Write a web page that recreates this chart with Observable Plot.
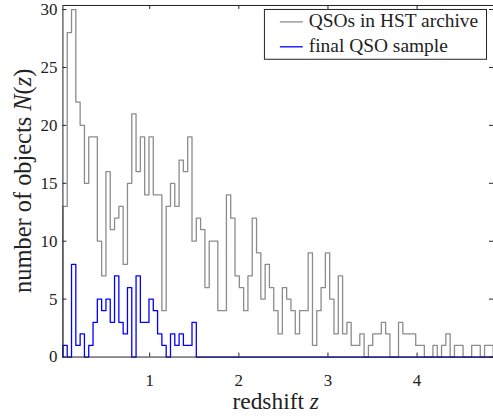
<!DOCTYPE html>
<html>
<head>
<meta charset="utf-8">
<script src="https://cdn.jsdelivr.net/npm/d3@7"></script>
<script src="https://cdn.jsdelivr.net/npm/@observablehq/plot@0.6"></script>
<style>
html, body { margin: 0; padding: 0; background: #fff; overflow: hidden; }
#chart { width: 493px; height: 419px; overflow: hidden; }
</style>
</head>
<body>
<div id="chart"></div>
<script>
// Histogram binning: 100 bins starting at binStart
const binStart = 0.0265;
const binWidth = 0.04827;

// Counts per bin: QSOs in HST archive
const archiveCounts = [
  13, 28, 30, 22, 20, 15, 19, 19, 10, 7,
  16, 11, 12, 13, 8, 15, 21, 16, 19, 14,
  19, 14, 14, 4, 13, 15, 13, 17, 16, 19,
  10, 12, 11, 6, 10, 10, 4, 4, 14, 12,
  7, 6, 4, 7, 12, 9, 5, 8, 6, 4,
  2, 6, 5, 4, 2, 4, 4, 9, 1, 4,
  6, 9, 5, 2, 7, 2, 3, 1, 1, 2,
  0, 1, 2, 2, 3, 2, 0, 0, 3, 2,
  2, 2, 1, 1, 0, 0, 1, 0, 1, 2,
  0, 1, 1, 0, 0, 1, 1, 0, 1, 1
];

// Counts per bin: final QSO sample
const finalCounts = [
  1, 0, 8, 1, 2, 0, 1, 3, 5, 4,
  5, 3, 7, 3, 2, 6, 0, 7, 3, 3,
  5, 4, 2, 1, 0, 2, 1, 2, 1, 1,
  3, 0, 0, 0, 0, 0, 0, 0, 0, 0,
  0, 0, 0, 0, 0, 0, 0, 0, 0, 0,
  0, 0, 0, 0, 0, 0, 0, 0, 0, 0,
  0, 0, 0, 0, 0, 0, 0, 0, 0, 0,
  0, 0, 0, 0, 0, 0, 0, 0, 0, 0,
  0, 0, 0, 0, 0, 0, 0, 0, 0, 0,
  0, 0, 0, 0, 0, 0, 0, 0, 0, 0
];

const xTicks = [1, 2, 3, 4];
const yTicks = [0, 5, 10, 15, 20, 25, 30];
const seriesNames = ["QSOs in HST archive", "final QSO sample"];
const seriesColors = ["#8c8c8c", "#0000ff"];
const xDomain = [binStart, 4.857];
const yDomain = [0, 30.35];

function stepPoints(counts) {
  const pts = [{z: binStart, n: 0}];
  counts.forEach((c, i) => pts.push({z: binStart + i * binWidth, n: c}));
  const end = binStart + counts.length * binWidth;
  pts.push({z: end, n: counts[counts.length - 1]});
  pts.push({z: end, n: 0});
  return pts;
}

const W = 495, H = 419, ML = 62.67, MR = 0, MT = 5, MB = 61;
const fw = W - ML - MR, fh = H - MT - MB;
const FONT = "Liberation Serif, Times New Roman, serif";

const svg = Plot.plot({
  width: W, height: H,
  marginLeft: ML, marginRight: MR, marginTop: MT, marginBottom: MB,
  style: {fontFamily: FONT, fontSize: "17px", color: "#222", background: "#fff"},
  x: {domain: xDomain},
  y: {domain: yDomain},
  marks: [
    Plot.line(stepPoints(archiveCounts), {x: "z", y: "n", curve: "step-after", stroke: seriesColors[0], strokeWidth: 1.3}),
    Plot.line(stepPoints(finalCounts), {x: "z", y: "n", curve: "step-after", stroke: seriesColors[1], strokeWidth: 1.3}),
    Plot.frame({stroke: "#222", strokeWidth: 1}),
    Plot.tickY(yTicks, {y: d => d, insetRight: fw - 4, stroke: "#222"}),
    Plot.tickY(yTicks, {y: d => d, insetLeft: fw - 4, stroke: "#222"}),
    Plot.tickX(xTicks, {x: d => d, insetTop: fh - 4, stroke: "#222"}),
    Plot.tickX(xTicks, {x: d => d, insetBottom: fh - 4, stroke: "#222"}),
    Plot.axisX(xTicks, {tickSize: 0, tickPadding: 17, label: null, fontSize: 17, fontFamily: FONT, fill: "#222"}),
    Plot.axisY(yTicks, {tickSize: 0, tickPadding: 5.5, label: null, fontSize: 17, fontFamily: FONT, fill: "#222"})
  ]
});

const s = d3.select(svg);

// Axis labels with italic math symbols
const xl = s.append("text")
  .attr("x", ML + fw / 2 - 2).attr("y", 411)
  .attr("text-anchor", "middle")
  .attr("font-family", FONT).attr("font-size", 23.5).attr("fill", "#222");
xl.append("tspan").text("redshift ");
xl.append("tspan").attr("font-style", "italic").text("z");

const yl = s.append("text")
  .attr("transform", `translate(31,${MT + fh / 2}) rotate(-90)`)
  .attr("text-anchor", "middle")
  .attr("font-family", FONT).attr("font-size", 24.5).attr("fill", "#222");
yl.append("tspan").text("number of objects ");
yl.append("tspan").attr("font-style", "italic").text("N");
yl.append("tspan").text("(");
yl.append("tspan").attr("font-style", "italic").text("z");
yl.append("tspan").text(")");

// Legend
const lg = s.append("g");
lg.append("rect")
  .attr("x", 265.5).attr("y", 9.5).attr("width", 223).attr("height", 50)
  .attr("fill", "#fff").attr("stroke", "#222").attr("stroke-width", 1);
seriesNames.forEach((name, i) => {
  const y = 22 + i * 25;
  lg.append("line")
    .attr("x1", 281).attr("x2", 304).attr("y1", y).attr("y2", y)
    .attr("stroke", seriesColors[i]).attr("stroke-width", 1.3);
  lg.append("text")
    .attr("x", 310).attr("y", y + 5.5)
    .attr("text-anchor", "start")
    .attr("font-family", FONT).attr("font-size", 19.5).attr("fill", "#222")
    .text(name);
});

document.getElementById("chart").appendChild(svg);
</script>
</body>
</html>
